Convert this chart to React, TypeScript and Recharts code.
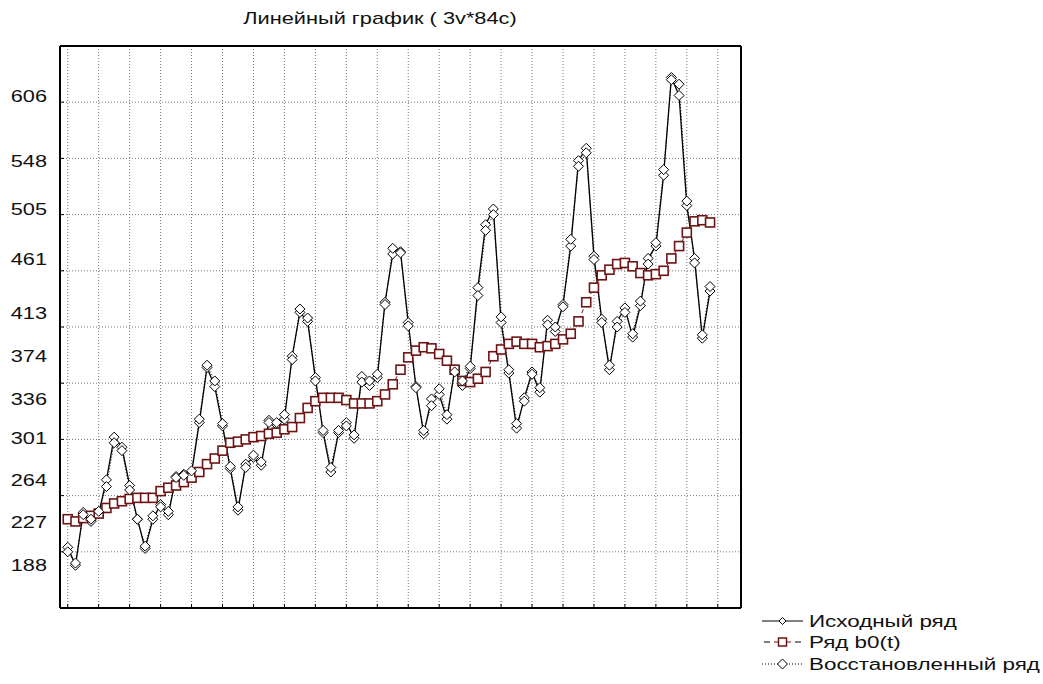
import { LineChart, Line, XAxis, YAxis, CartesianGrid } from 'recharts';

// Airline passengers 1954-1960 (84 monthly cases)
const original = [
  204, 188, 235, 227, 234, 264, 302, 293, 259, 229, 203, 229,
  242, 233, 267, 269, 270, 315, 364, 347, 312, 274, 237, 278,
  284, 277, 317, 313, 318, 374, 413, 405, 355, 306, 271, 306,
  315, 301, 356, 348, 355, 422, 465, 467, 404, 347, 305, 336,
  340, 318, 362, 348, 363, 435, 491, 505, 404, 359, 310, 337,
  360, 342, 406, 396, 420, 472, 548, 559, 463, 407, 362, 405,
  417, 391, 419, 461, 472, 535, 622, 606, 508, 461, 390, 432,
];

const trendB0 = [
  229, 227, 230, 232, 234, 239, 243, 245, 247, 248, 248, 248,
  254, 257, 259, 262, 266, 271, 278, 283, 290, 297, 298, 300,
  302, 303, 305, 306, 309, 311, 319, 328, 334, 337, 337, 337,
  335, 332, 332, 332, 334, 340, 349, 362, 373, 379, 382, 381,
  376, 370, 362, 352, 351, 354, 360, 374, 380, 385, 387, 385,
  385, 382, 383, 385, 389, 394, 405, 422, 435, 446, 451, 456,
  457, 454, 448, 446, 447, 450, 461, 472, 484, 494, 495, 493,
];

const restored = [
  200, 190, 233, 229, 236, 258, 297, 290, 255, 229, 205, 232,
  240, 236, 266, 268, 272, 318, 366, 352, 314, 276, 240, 275,
  286, 280, 315, 315, 322, 371, 416, 408, 352, 308, 275, 308,
  312, 304, 351, 352, 358, 420, 470, 466, 401, 346, 308, 330,
  345, 322, 360, 352, 365, 428, 486, 500, 409, 362, 314, 334,
  358, 346, 402, 400, 418, 478, 543, 555, 460, 404, 366, 400,
  413, 394, 423, 456, 475, 540, 620, 616, 512, 457, 393, 436,
];

const yLabels = [188, 227, 264, 301, 336, 374, 413, 461, 505, 548, 606];
const yGrid = [200, 250, 300, 350, 400, 450, 500, 550, 600];
const xGrid = [1, 5, 9, 13, 17, 21, 25, 29, 33, 37, 41, 45, 49, 53, 57, 61, 65, 69, 73, 77, 81, 85];

const seriesNames = ['Исходный ряд', 'Ряд b0(t)', 'Восстановленный ряд'];

const data = original.map((v, i) => ({
  c: i + 1,
  orig: v,
  b0: trendB0[i],
  rec: restored[i],
}));

const FONT = '"Liberation Sans", Arial, sans-serif';
const MAROON = '#6e1414';
const Y_DOMAIN: [number, number] = [150, 650];

const diamond = (size: number) => (props: any) => {
  const { cx, cy, index } = props;
  if (cx == null || cy == null) return <g key={index} />;
  const s = size;
  return (
    <path
      key={index}
      d={`M${cx},${cy - s}L${cx + s},${cy}L${cx},${cy + s}L${cx - s},${cy}Z`}
      fill="#fff"
      stroke="#000"
      strokeWidth={1}
    />
  );
};

const square = (props: any) => {
  const { cx, cy, index } = props;
  if (cx == null || cy == null) return <g key={index} />;
  return (
    <rect key={index} x={cx - 4.5} y={cy - 4.5} width={9} height={9} fill="#fff" stroke={MAROON} strokeWidth={1.6} />
  );
};

const EmptyTick = () => <g />;

const YTick = (props: any) => {
  const { y, payload } = props;
  return (
    <text
      transform={`translate(47,${y}) scale(1.28,1)`}
      textAnchor="end"
      dy="0.36em"
      fontFamily={FONT}
      fontSize={17}
      fill="#111"
    >
      {payload.value}
    </text>
  );
};

const legendText = (s: string) => (
  <text transform="translate(47,0) scale(1.4,1)" dy="0.36em" fontFamily={FONT} fontSize={16} fill="#111">
    {s}
  </text>
);

const LegendBox = () => (
  <svg width={290} height={66} style={{ position: 'absolute', left: 760, top: 610 }}>
    <g transform="translate(2,11)">
      <line x1={0} y1={0} x2={41} y2={0} stroke="#000" strokeWidth={1} />
      <path d="M20.5,-3.5L24,0L20.5,3.5L17,0Z" fill="#fff" stroke="#000" />
      {legendText(seriesNames[0])}
    </g>
    <g transform="translate(2,32)">
      <line x1={2} y1={0} x2={8} y2={0} stroke="#000" />
      <line x1={33} y1={0} x2={39} y2={0} stroke="#000" />
      <line x1={12} y1={0} x2={29} y2={0} stroke={MAROON} />
      <rect x={16.5} y={-4} width={8} height={8} fill="#fff" stroke={MAROON} strokeWidth={1.5} />
      {legendText(seriesNames[1])}
    </g>
    <g transform="translate(2,54)">
      <line x1={0} y1={0} x2={41} y2={0} stroke="#000" strokeDasharray="1 2" />
      <path d="M20.5,-5L25.5,0L20.5,5L15.5,0Z" fill="#fff" stroke="#000" />
      {legendText(seriesNames[2])}
    </g>
  </svg>
);

export default function App() {
  return (
    <div style={{ position: 'absolute', left: 0, top: 0, width: 1043, height: 684, background: '#fff' }}>
      <div
        style={{
          position: 'absolute',
          left: 0,
          width: 760,
          top: 9,
          textAlign: 'center',
          fontFamily: FONT,
          fontSize: 17,
          color: '#111',
          transform: 'scaleX(1.28)',
          transformOrigin: '380px 0',
        }}
      >
        Линейный график ( 3v*84c)
      </div>
      <LineChart width={1043} height={684} data={data} margin={{ top: 46, right: 302, bottom: 76, left: 0 }}>
        <CartesianGrid xAxisId="b" yAxisId="g" stroke="#777" strokeDasharray="1 2" />
        <XAxis
          xAxisId="b"
          dataKey="c"
          type="number"
          domain={[0, 88]}
          allowDataOverflow
          ticks={xGrid}
          interval={0}
          tick={EmptyTick}
          mirror
          tickSize={4}
          tickLine={{ stroke: '#000' }}
          axisLine={{ stroke: '#000', strokeWidth: 2 }}
        />
        <XAxis
          xAxisId="t"
          orientation="top"
          dataKey="c"
          type="number"
          domain={[0, 88]}
          allowDataOverflow
          tick={false}
          tickLine={false}
          mirror
          axisLine={{ stroke: '#000', strokeWidth: 2 }}
        />
        <YAxis
          yAxisId="g"
          type="number"
          domain={Y_DOMAIN}
          allowDataOverflow
          ticks={yGrid}
          interval={0}
          tick={EmptyTick}
          mirror
          tickSize={4}
          tickLine={{ stroke: '#000' }}
          axisLine={{ stroke: '#000', strokeWidth: 2 }}
        />
        <YAxis
          yAxisId="lbl"
          type="number"
          domain={Y_DOMAIN}
          allowDataOverflow
          ticks={yLabels}
          tick={YTick}
          tickLine={false}
          axisLine={false}
          width={60}
          interval={0}
        />
        <YAxis
          yAxisId="r"
          orientation="right"
          type="number"
          domain={Y_DOMAIN}
          allowDataOverflow
          tick={false}
          tickLine={false}
          mirror
          axisLine={{ stroke: '#000', strokeWidth: 2 }}
        />
        {/* invisible helper so the label axis has data bound to it */}
        <Line
          xAxisId="b"
          yAxisId="lbl"
          dataKey="orig"
          stroke="none"
          dot={false}
          activeDot={false}
          legendType="none"
          isAnimationActive={false}
        />
        <Line
          xAxisId="b"
          yAxisId="g"
          dataKey="orig"
          name={seriesNames[0]}
          stroke="#000"
          strokeWidth={1.3}
          dot={diamond(5)}
          isAnimationActive={false}
        />
        <Line
          xAxisId="b"
          yAxisId="g"
          dataKey="b0"
          name={seriesNames[1]}
          stroke={MAROON}
          strokeWidth={1}
          strokeDasharray="4 3"
          dot={square}
          isAnimationActive={false}
        />
        <Line
          xAxisId="b"
          yAxisId="g"
          dataKey="rec"
          name={seriesNames[2]}
          stroke="#000"
          strokeWidth={1}
          strokeDasharray="1 2"
          dot={diamond(5)}
          isAnimationActive={false}
        />
      </LineChart>
      <LegendBox />
    </div>
  );
}
